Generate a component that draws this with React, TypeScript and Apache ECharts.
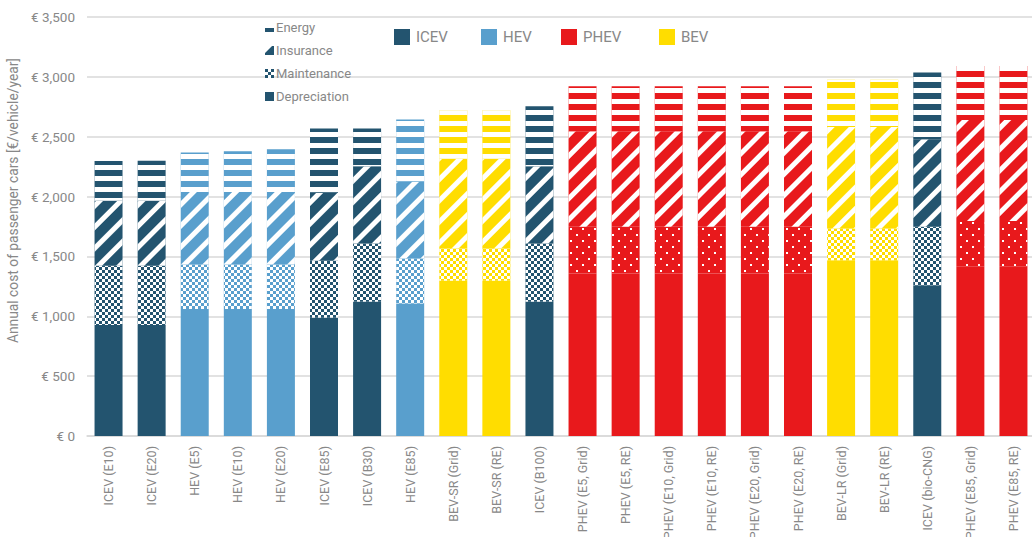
import React, { useEffect, useRef } from 'react';
import * as echarts from 'echarts';

const categories = [
  'ICEV (E10)', 'ICEV (E20)', 'HEV (E5)', 'HEV (E10)', 'HEV (E20)', 'ICEV (E85)', 'ICEV (B30)', 'HEV (E85)',
  'BEV-SR (Grid)', 'BEV-SR (RE)', 'ICEV (B100)', 'PHEV (E5, Grid)', 'PHEV (E5, RE)', 'PHEV (E10, Grid)',
  'PHEV (E10, RE)', 'PHEV (E20, Grid)', 'PHEV (E20, RE)', 'BEV-LR (Grid)', 'BEV-LR (RE)', 'ICEV (bio-CNG)',
  'PHEV (E85, Grid)', 'PHEV (E85, RE)',
];
const vehicleTypes = [
  'ICEV', 'ICEV', 'HEV', 'HEV', 'HEV', 'ICEV', 'ICEV', 'HEV', 'BEV', 'BEV', 'ICEV',
  'PHEV', 'PHEV', 'PHEV', 'PHEV', 'PHEV', 'PHEV', 'BEV', 'BEV', 'ICEV', 'PHEV', 'PHEV',
];
const depreciation = [927, 927, 1060, 1060, 1060, 988, 1121, 1107, 1297, 1297, 1121, 1358, 1358, 1358, 1358, 1358, 1358, 1469, 1469, 1260, 1413, 1413];
const maintenance = [495, 495, 373, 373, 373, 475, 487, 376, 270, 270, 487, 389, 389, 389, 389, 389, 389, 264, 264, 487, 382, 382];
const insurance = [543, 543, 606, 606, 606, 568, 646, 642, 748, 748, 646, 798, 798, 798, 798, 798, 798, 849, 849, 732, 845, 845];
const energy = [333, 335, 329, 340, 357, 537, 314, 518, 406, 406, 500, 377, 377, 377, 377, 377, 377, 393, 393, 557, 451, 451];

const typeNames = ['ICEV', 'HEV', 'PHEV', 'BEV'];
const typeColors: Record<string, string> = { ICEV: '#23546f', HEV: '#599fcd', PHEV: '#e8191c', BEV: '#ffdd00' };
const componentNames = ['Energy', 'Insurance', 'Maintenance', 'Depreciation'];
const typeLegendLefts = [389, 476, 556, 654];

const decalEnergy = { symbol: 'rect', symbolSize: 1, dashArrayX: [1, 0], dashArrayY: [5, 6], color: '#ffffff', rotation: 0 };
const decalInsurance = { symbol: 'rect', symbolSize: 1, dashArrayX: [1, 0], dashArrayY: [5, 10], color: '#ffffff', rotation: -Math.PI / 4 };
const decalChecker = { symbol: 'rect', symbolSize: 1, dashArrayX: [[3, 3], [0, 3, 3, 0]], dashArrayY: [3, 0], color: '#ffffff', rotation: 0 };
const decalDots = { symbol: 'rect', symbolSize: 1, dashArrayX: [[2, 10], [0, 6, 2, 4]], dashArrayY: [2, 4], color: '#ffffff', rotation: 0 };

const textColor = '#888888';
const font = 'Roboto';

function App() {
  const ref = useRef<HTMLDivElement>(null);
  useEffect(() => {
    if (!ref.current) return;
    const chart = echarts.init(ref.current, undefined, { renderer: 'svg' });

    const makeData = (vals: number[], decalFor: (t: string) => any) =>
      vals.map((v, i) => ({
        value: v,
        itemStyle: { color: typeColors[vehicleTypes[i]], decal: decalFor(vehicleTypes[i]) },
      }));

    const base = { type: 'bar', stack: 'total', barWidth: 28, animation: false };

    const series: any[] = [
      {
        ...base, name: 'Depreciation',
        itemStyle: { color: typeColors.ICEV },
        data: depreciation.map((v, i) => ({ value: v, itemStyle: { color: typeColors[vehicleTypes[i]] } })),
      },
      {
        ...base, name: 'Maintenance',
        itemStyle: { color: typeColors.ICEV, decal: decalChecker },
        data: makeData(maintenance, (t) => (t === 'PHEV' ? decalDots : decalChecker)),
      },
      {
        ...base, name: 'Insurance',
        itemStyle: { color: typeColors.ICEV, decal: decalInsurance },
        data: makeData(insurance, () => decalInsurance),
      },
      {
        ...base, name: 'Energy',
        itemStyle: { color: typeColors.ICEV, decal: decalEnergy },
        data: makeData(energy, () => decalEnergy),
      },
      ...typeNames.map((t) => ({ ...base, name: t, itemStyle: { color: typeColors[t] }, data: [] })),
    ];

    chart.setOption({
      animation: false,
      textStyle: { fontFamily: font },
      grid: { left: 87, top: 17, width: 948, height: 419, containLabel: false, outerBoundsMode: 'none' },
      legend: [
        {
          data: componentNames,
          orient: 'vertical',
          left: 260,
          top: 16,
          itemWidth: 9,
          itemHeight: 9,
          itemGap: 10,
          selectedMode: false,
          icon: 'rect',
          textStyle: { fontSize: 13, color: textColor, fontFamily: font, padding: [0, 0, 0, -3] },
        },
        ...typeNames.map((t, i) => ({
          data: [t],
          orient: 'horizontal',
          left: typeLegendLefts[i],
          top: 24,
          itemWidth: 16,
          itemHeight: 16,
          selectedMode: false,
          icon: 'rect',
          textStyle: { fontSize: 15, color: textColor, fontFamily: font, padding: [0, 0, 0, 1] },
        })),
      ],
      xAxis: {
        type: 'category',
        data: categories,
        axisLine: { lineStyle: { color: '#d9d9d9', width: 1.5 } },
        axisTick: { show: false },
        axisLabel: { rotate: 90, margin: 10, fontSize: 12.5, color: textColor, fontFamily: font, interval: 0 },
      },
      yAxis: {
        type: 'value',
        min: 0,
        max: 3500,
        interval: 500,
        name: 'Annual cost of passenger cars [€/vehicle/year]',
        nameLocation: 'middle',
        nameGap: 57,
        nameTextStyle: { fontSize: 13.8, color: textColor, fontFamily: font, padding: [0, 0, 0, 52] },
        axisLine: { show: false },
        axisTick: { show: false },
        splitLine: { lineStyle: { color: '#d9d9d9', width: 1.5 } },
        axisLabel: {
          margin: 12,
          fontSize: 13.5,
          color: textColor,
          fontFamily: font,
          formatter: (v: number) => '€ ' + v.toLocaleString('en-US'),
        },
      },
      series,
    });
    return () => chart.dispose();
  }, []);
  return <div ref={ref} style={{ position: 'fixed', left: 0, top: 0, width: 1032, height: 537, background: '#fff' }} />;
}

export default App;
